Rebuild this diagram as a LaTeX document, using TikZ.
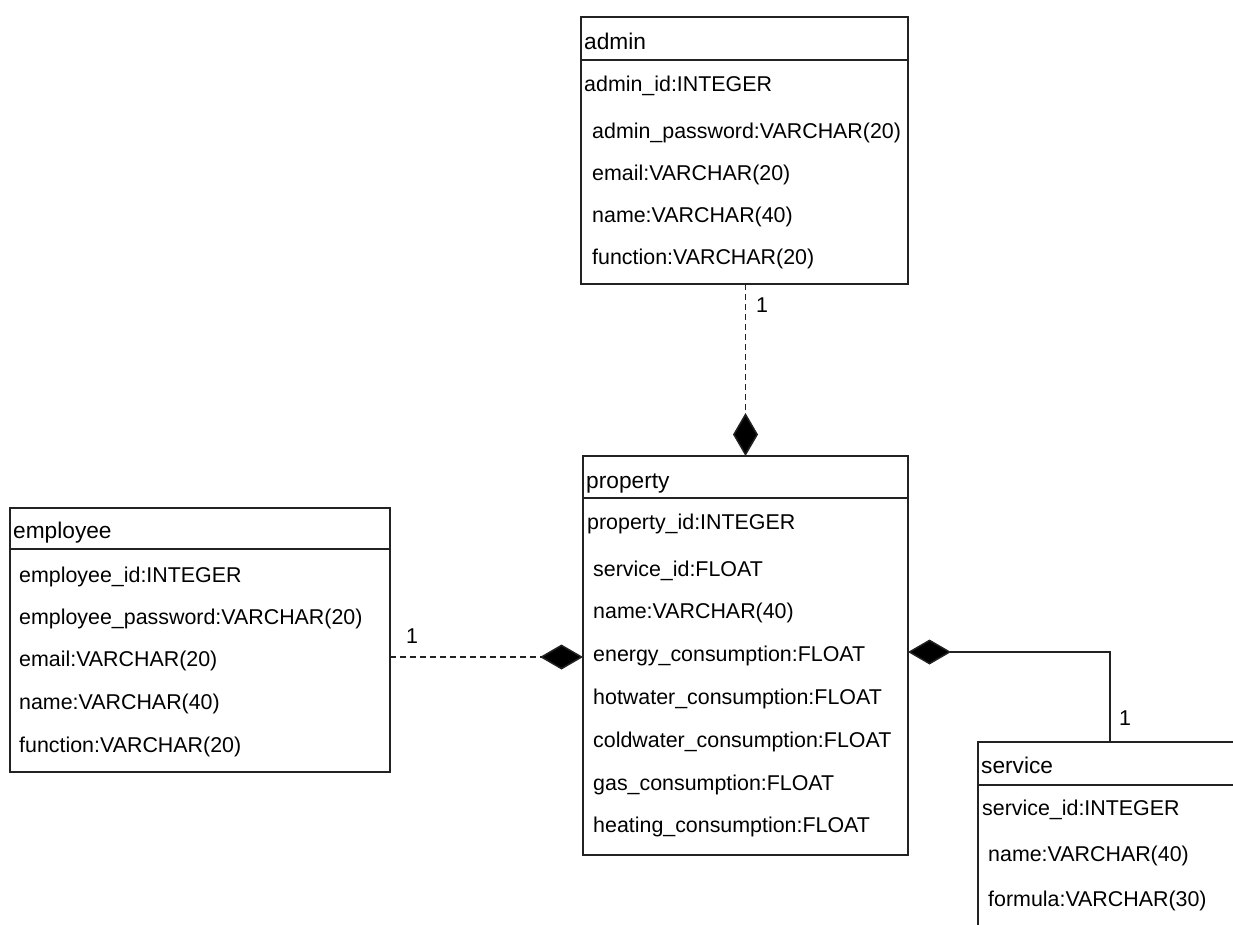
\documentclass[tikz,border=0pt]{standalone}
\usepackage{fontspec}
\setmainfont{Liberation Sans}
\usetikzlibrary{arrows.meta}
\definecolor{linec}{HTML}{222222}
\tikzset{
  cls/.style={draw=linec, line width=1.6pt, anchor=north west, inner sep=0pt, outer sep=0pt},
  sepline/.style={draw=linec, line width=1.6pt},
  attr/.style={anchor=base west, inner sep=0pt, text=black, font=\fontsize{21.4}{24}\selectfont},
  title/.style={anchor=base west, inner sep=0pt, text=black, font=\fontsize{22.7}{26}\selectfont},
  mult/.style={anchor=base west, inner sep=0pt, text=black, font=\fontsize{21.4}{24}\selectfont},
  comp/.style={draw=linec, line width=1.5pt, -{Diamond[length=43pt,width=25pt,fill=black]}},
  dashcomp/.style={comp, dash pattern=on 6pt off 4pt},
}
\begin{document}
\begin{tikzpicture}[x=1pt,y=-1pt]
\useasboundingbox (0,0) rectangle (1233,924);
\clip (0,0) rectangle (1233,924);
\fill[white] (0,0) rectangle (1233,924);

% admin
\node[cls, minimum width=327pt, minimum height=267pt] (admin) at (581,17) {};
\draw[sepline] (581,60) -- (908,60);
\node[title] (adminT) at (584,49) {admin};
\node[attr] (a1) at (584,91) {admin\_id:INTEGER};
\node[attr] (a2) at (592,138) {admin\_password:VARCHAR(20)};
\node[attr] (a3) at (592,180) {email:VARCHAR(20)};
\node[attr] (a4) at (592,222) {name:VARCHAR(40)};
\node[attr] (a5) at (592,264) {function:VARCHAR(20)};

% property
\node[cls, minimum width=325pt, minimum height=399pt] (property) at (583,456) {};
\draw[sepline] (583,498) -- (908,498);
\node[title] (pT) at (586,488) {property};
\node[attr] (p1) at (587,529) {property\_id:INTEGER};
\node[attr] (p2) at (593,576) {service\_id:FLOAT};
\node[attr] (p3) at (593,618) {name:VARCHAR(40)};
\node[attr] (p4) at (593,661) {energy\_consumption:FLOAT};
\node[attr] (p5) at (593,704) {hotwater\_consumption:FLOAT};
\node[attr] (p6) at (593,747) {coldwater\_consumption:FLOAT};
\node[attr] (p7) at (593,790) {gas\_consumption:FLOAT};
\node[attr] (p8) at (593,832) {heating\_consumption:FLOAT};

% employee
\node[cls, minimum width=380pt, minimum height=264pt] (employee) at (10,508) {};
\draw[sepline] (10,549) -- (390,549);
\node[title] (eT) at (13,538) {employee};
\node[attr] (e1) at (19,582) {employee\_id:INTEGER};
\node[attr] (e2) at (19,624) {employee\_password:VARCHAR(20)};
\node[attr] (e3) at (19,666) {email:VARCHAR(20)};
\node[attr] (e4) at (19,709) {name:VARCHAR(40)};
\node[attr] (e5) at (19,752) {function:VARCHAR(20)};

% service (cut off by the picture edge)
\node[cls, minimum width=320pt, minimum height=260pt] (service) at (978,742) {};
\draw[sepline] (978,785) -- (1300,785);
\node[title] (sT) at (981,773) {service};
\node[attr] (s1) at (982,815) {service\_id:INTEGER};
\node[attr] (s2) at (988,861) {name:VARCHAR(40)};
\node[attr] (s3) at (988,906) {formula:VARCHAR(30)};

% connectors
\draw[dashcomp] (property.north |- admin.south) -- (property.north);
\draw[dashcomp] (employee.east |- 0,657) -- (property.west |- 0,657);
\coordinate (svc) at (1110,742);
\draw[comp] (svc) |- (property.east |- 0,652);

% multiplicities
\node[mult] (m1) at (756,312) {1};
\node[mult] (m2) at (406,643) {1};
\node[mult] (m3) at (1119,725) {1};
\end{tikzpicture}
\end{document}
